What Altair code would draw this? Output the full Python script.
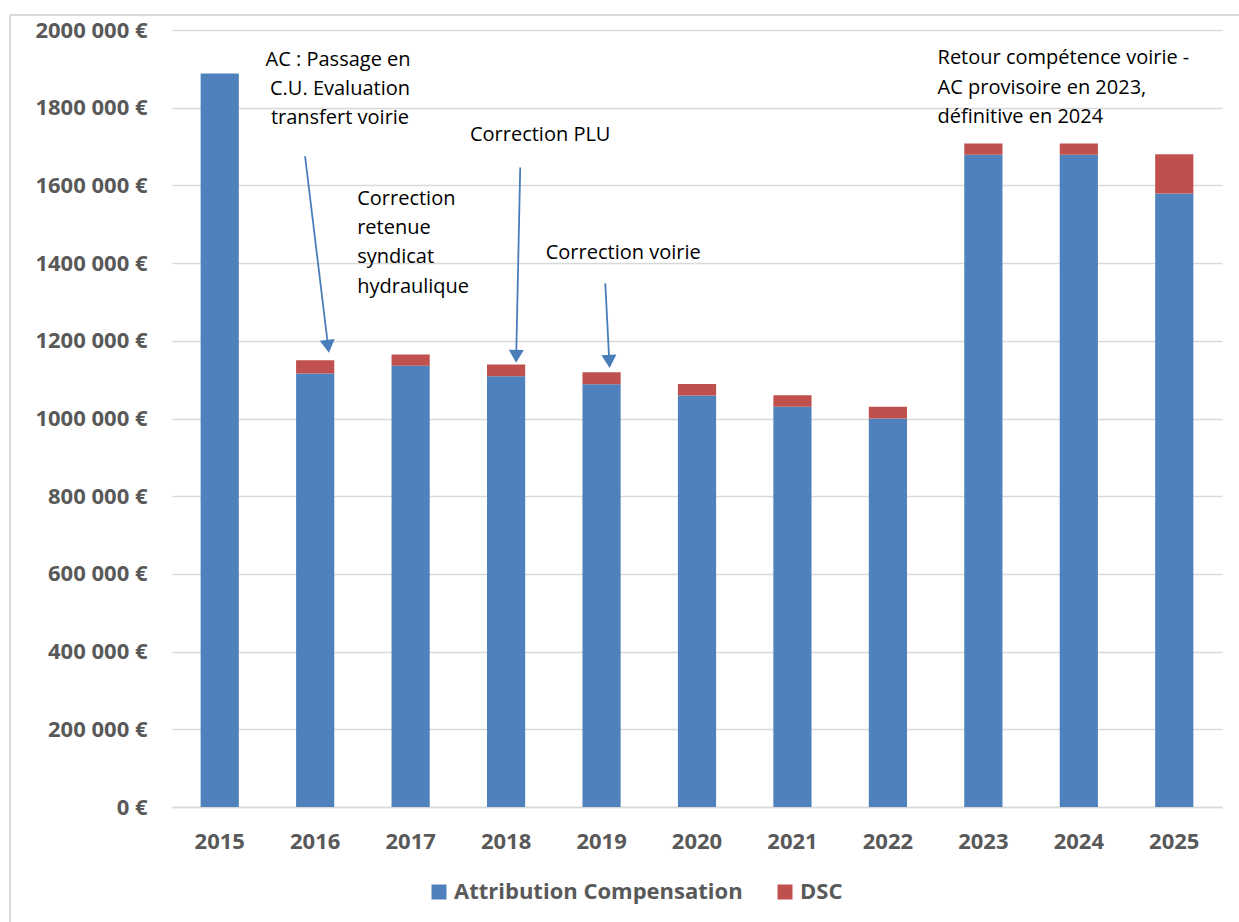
import altair as alt
import pandas as pd

# ---- data ----
years = ["2015", "2016", "2017", "2018", "2019", "2020", "2021", "2022", "2023", "2024", "2025"]
ac_values = [1888000, 1116000, 1136000, 1109000, 1088000, 1059000, 1030000, 1000000, 1679000, 1679000, 1579000]
dsc_values = [0, 34000, 29000, 30000, 31000, 30000, 30000, 30000, 29000, 29000, 101000]
series = ["Attribution Compensation", "DSC"]
colors = ["#4F81BD", "#C0504D"]

# annotation lines (x in band units: 0 = left of 2015, 11 = right of 2025)
ann_lines = ["AC : Passage en", "C.U. Evaluation", "transfert voirie",
             "Correction", "retenue", "syndicat", "hydraulique",
             "Correction PLU", "Correction voirie",
             "Retour compétence voirie -", "AC provisoire en 2023,", "définitive en 2024"]
ann_x = [1.74, 1.76, 1.76, 1.94, 1.94, 1.94, 1.94, 3.857, 4.727, 8.02, 8.02, 8.02]
ann_y = [1924000, 1847000, 1773000, 1564000, 1490000, 1415000, 1338000,
         1731000, 1425000, 1927000, 1850000, 1775000]
ann_align = ["center"] * 3 + ["left"] * 4 + ["center"] * 2 + ["left"] * 3

# arrows: start and head positions
arr_x1 = [1.394, 3.648, 4.539]
arr_y1 = [1675000, 1646000, 1348000]
arr_x2 = [1.635, 3.606, 4.581]
arr_y2 = [1186000, 1160000, 1147000]
arr_angle = [353, 1, 357]

rows = []
for i, y in enumerate(years):
    rows.append({"Année": y, "Série": series[0], "Valeur": ac_values[i], "ord": 0})
    rows.append({"Année": y, "Série": series[1], "Valeur": dsc_values[i], "ord": 1})
df = pd.DataFrame(rows)

ann_df = pd.DataFrame({"t": ann_lines, "xi": ann_x, "yv": ann_y, "al": ann_align})
arr_df = pd.DataFrame({"x1": arr_x1, "y1": arr_y1, "x2": arr_x2, "y2": arr_y2, "ang": arr_angle})

W, H = 1050, 777
FONT = "Open Sans"
GRAY = "#595959"
ANN_SIZE = 20

yscale = alt.Scale(domain=[0, 2000000], nice=False, zero=True)

bars = alt.Chart(df).mark_bar().encode(
    x=alt.X("Année:N", sort=years, title=None,
            scale=alt.Scale(paddingInner=0.6, paddingOuter=0.3),
            axis=alt.Axis(labelAngle=0, labelFont=FONT, labelFontWeight="bold",
                          labelFontSize=22, labelColor=GRAY, ticks=False, tickSize=0,
                          labelPadding=24, domainColor="#D9D9D9", domainWidth=1.5,
                          grid=False)),
    y=alt.Y("Valeur:Q", stack="zero", scale=yscale, title=None,
            axis=alt.Axis(values=list(range(0, 2000001, 200000)),
                          labelExpr="datum.value == 0 ? '0 €' : floor(datum.value/1000) + ' 000 €'",
                          labelFont=FONT, labelFontWeight="bold", labelFontSize=22,
                          labelColor=GRAY, labelPadding=25, ticks=False, tickSize=0,
                          domain=False, gridColor="#D9D9D9", gridWidth=1.5)),
    color=alt.Color("Série:N", scale=alt.Scale(domain=series, range=colors),
                    legend=alt.Legend(title=None, orient="none", legendX=256, legendY=851,
                                      direction="horizontal", symbolType="square",
                                      symbolSize=225, symbolStrokeWidth=0,
                                      labelFont=FONT, labelFontWeight="bold",
                                      labelFontSize=22, labelColor=GRAY, labelLimit=500,
                                      labelOffset=4, columnPadding=31)),
    order=alt.Order("ord:Q"),
)

xq = alt.Scale(domain=[0, 11], nice=False, zero=False)

text_center = alt.Chart(ann_df).transform_filter("datum.al == 'center'").mark_text(
    font=FONT, fontSize=ANN_SIZE, color="#000000", align="center", baseline="middle"
).encode(
    x=alt.X("xi:Q", scale=xq, axis=None),
    y=alt.Y("yv:Q", title=None),
    text="t:N",
)
text_left = alt.Chart(ann_df).transform_filter("datum.al == 'left'").mark_text(
    font=FONT, fontSize=ANN_SIZE, color="#000000", align="left", baseline="middle"
).encode(
    x=alt.X("xi:Q", scale=xq, axis=None),
    y=alt.Y("yv:Q", title=None),
    text="t:N",
)

arrow_lines = alt.Chart(arr_df).mark_rule(color="#4A7EBB", strokeWidth=1.8).encode(
    x=alt.X("x1:Q", scale=xq, axis=None),
    y=alt.Y("y1:Q", title=None),
    x2="x2:Q",
    y2="y2:Q",
)
arrow_heads = alt.Chart(arr_df).mark_point(shape="triangle-down", filled=True,
                                           color="#4A7EBB", size=225, opacity=1).encode(
    x=alt.X("x2:Q", scale=xq, axis=None),
    y=alt.Y("y2:Q", title=None),
    angle=alt.Angle("ang:Q", scale=None),
)

frame_top = alt.Chart(df).mark_rule(color="#D9D9D9", strokeWidth=2).encode(
    x=alt.value(-162), x2=alt.value(1080), y=alt.value(-15)
)
frame_left = alt.Chart(df).mark_rule(color="#D9D9D9", strokeWidth=2).encode(
    x=alt.value(-162), y=alt.value(-15), y2=alt.value(900)
)

chart = alt.layer(
    bars, arrow_lines, arrow_heads, text_center, text_left, frame_top, frame_left
).resolve_scale(x="independent").properties(
    width=W, height=H,
    background="white",
    padding={"left": 172, "top": 30, "right": 17, "bottom": 115},
    autosize=alt.AutoSizeParams(type="none"),
).configure_view(strokeWidth=0, stroke="transparent")

chart.save("out.html", embed_options={"renderer": "svg", "actions": False})
